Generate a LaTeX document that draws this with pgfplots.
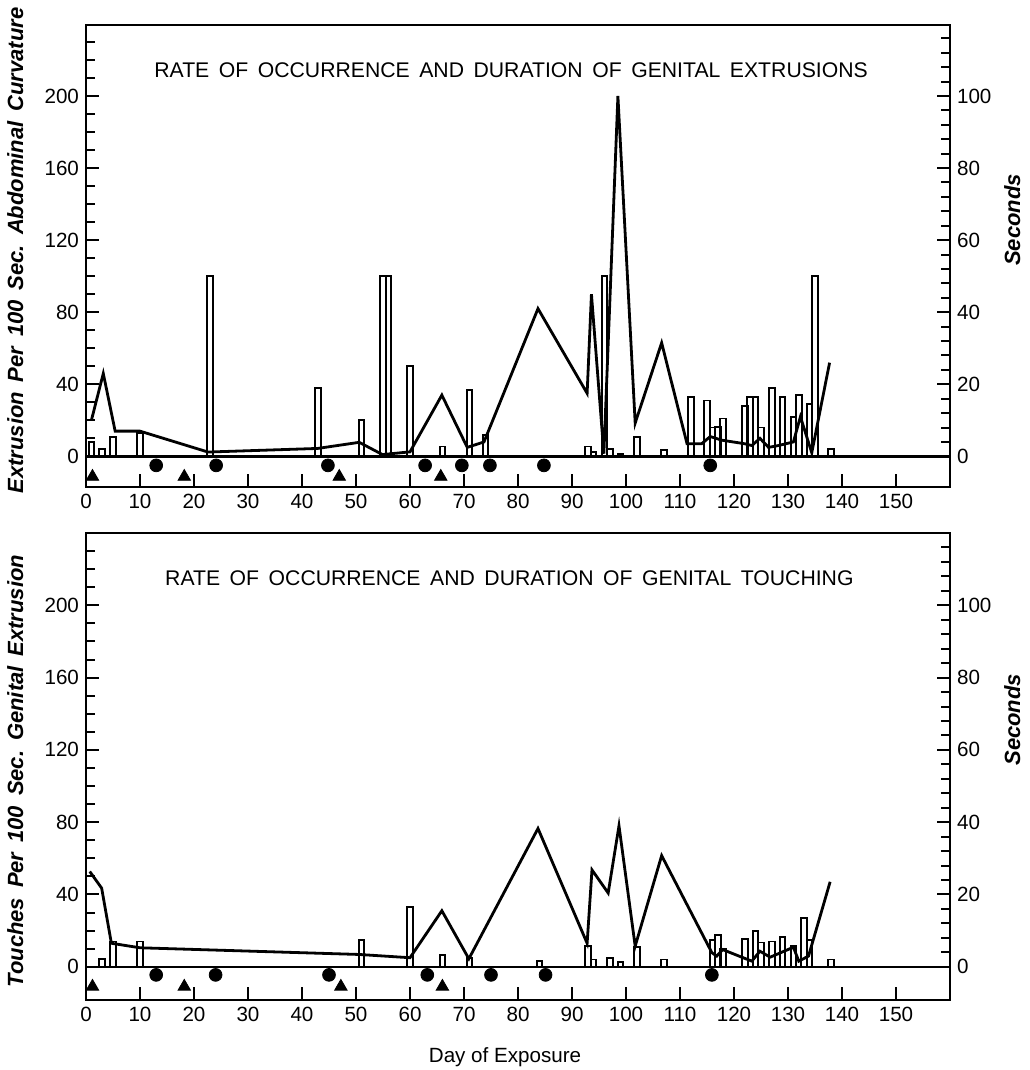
\documentclass[border=0pt]{standalone}
\usepackage{fontspec}
\setmainfont{Liberation Sans}
\usepackage{pgfplots}
\pgfplotsset{compat=1.18}
\newcommand{\gap}{\hspace{0.45em}}
\pgfplotstableread{
x y
1 8
3 4
5 11
10 13
23 100
43 38
51 20
55 100
56 100
60 50
66 5.5
71 37
74 12
93 5.5
94 2.6
96 100
97 4
99 1.5
102 11
107 3.3
112 33
115 31
116 16
117 16.5
118 21
122 28
123 33
124 33
125 16
127 38
129 33
131 22
132 34
134 29
135 100
138 4
}\topbars
\pgfplotstableread{
x y
1 20
3.2 46
5.4 14
10 14
22.6 2.4
42.9 4.4
50.6 7.8
54.9 1
60 2.5
65.9 34
70.6 5
73.7 8
83.7 82
92.8 35
93.6 90
95.9 1.5
98.5 200
101.7 18.5
106.6 63
111.3 7
114 7
115.6 11
117.7 9
122 7
123.3 6
124.8 10
126.4 5
128.2 6
131 8
132.3 22
134.4 2
137.7 52
}\topline
\pgfplotstableread{
x y
3 4.4
5 14
10 14
51 15
60 33
66 6.3
71 5
84 3
93 11.4
94 4
97 5
99 2.8
102 11
107 4
116 15
117 17.4
118 10
122 15.6
124 20
125 13.4
127 14
129 16.4
131 11.4
133 27
134 14.7
138 4
}\botbars
\pgfplotstableread{
x y
0.7 52.7
2.9 43.5
4.7 13
10 10.5
50.6 6.8
60 5
65.9 31
70.9 4.4
83.7 76.5
92.8 13
93.7 53.6
96.7 40.8
98.7 78
101.7 11.4
106.6 61.5
115.9 7.8
116.8 5.9
117.9 9.5
123.3 3.1
124.8 8.6
126.7 5.3
131 10.8
132 3.1
133.8 5.9
137.8 47
}\botline
\pgfplotsset{
  base/.style={
    scale only axis, width=432pt,
    xmin=0, xmax=160,
    tick align=inside,
    axis line style={line width=1.2pt},
    every tick/.style={line width=1pt, black},
    major tick length=6.5pt, minor tick length=4.5pt,
    tick label style={font=\fontsize{10.3}{12}\selectfont},
    /pgf/number format/assume math mode=true,
    clip=false,
  },
  leftax/.style={
    base,
    xtick={0,10,...,150}, xtick pos=left,
    ytick={0,40,...,200}, minor ytick={10,20,...,230}, ytick pos=left,
    every axis y label/.style={at={(axis description cs:-0.082,#1)}, rotate=90, anchor=center,
      font=\fontsize{11}{13}\selectfont\bfseries\itshape},
  },
  rightax/.style={
    base,
    axis x line=none, axis y line*=right,
    ytick={0,20,...,100}, minor ytick={4,8,...,116},
    every axis y label/.style={at={(axis description cs:1.072,#1)}, rotate=90, anchor=center,
      font=\fontsize{11}{13}\selectfont\bfseries\itshape},
  },
  barst/.style={ybar, bar width=1.05, draw=black, fill=white, line width=0.95pt},
  linest/.style={black, line width=1.4pt, no marks, line join=miter},
}
\begin{document}
\begin{tikzpicture}
\useasboundingbox (0,0) rectangle (514.5pt,-535pt);
% ---------- top panel ----------
\begin{axis}[leftax=0.512, at={(43pt,-12.5pt)}, anchor=north west, height=231pt,
  ymin=-17, ymax=239.4,
  ylabel={Extrusion\gap Per\gap 100\gap Sec.\gap Abdominal\gap Curvature}]
\addplot[barst] table[x=x,y=y] {\topbars};
\addplot[linest] table[x=x,y=y] {\topline};
\addplot[black, line width=1.2pt, no marks] coordinates {(0,0) (160,0)};
\addplot[only marks, mark=*, mark size=3.2pt, black] coordinates {(13,-5) (24.1,-5) (44.8,-5) (62.8,-5) (69.6,-5) (74.8,-5) (84.8,-5) (115.6,-5)};
\addplot[only marks, mark=triangle*, mark size=3.6pt, black] coordinates {(1.2,-11.3) (18.2,-11.3) (46.9,-11.3) (65.7,-11.3)};
\node[font=\fontsize{10.6}{12}\selectfont] at (axis description cs:0.492,0.903) {RATE\gap OF\gap OCCURRENCE\gap AND\gap DURATION\gap OF\gap GENITAL\gap EXTRUSIONS};
\end{axis}
\begin{axis}[rightax=0.578, at={(43pt,-12.5pt)}, anchor=north west, height=231pt,
  ymin=-8.5, ymax=119.7, ylabel={Seconds}]
\end{axis}
% ---------- bottom panel ----------
\begin{axis}[leftax=0.49, at={(43pt,-266.5pt)}, anchor=north west, height=233.5pt,
  ymin=-18.4, ymax=240,
  ylabel={Touches\gap Per\gap 100\gap Sec.\gap Genital\gap Extrusion},
  xlabel={Day of Exposure},
  every axis x label/.style={at={(axis description cs:0.485,0)}, anchor=center, yshift=-28.5pt,
    font=\fontsize{10.3}{12}\selectfont}]
\addplot[barst] table[x=x,y=y] {\botbars};
\addplot[linest] table[x=x,y=y] {\botline};
\addplot[black, line width=1.2pt, no marks] coordinates {(0,0) (160,0)};
\addplot[only marks, mark=*, mark size=3.2pt, black] coordinates {(13,-4.5) (24,-4.5) (45,-4.5) (63.2,-4.5) (75,-4.5) (85.1,-4.5) (115.9,-4.5)};
\addplot[only marks, mark=triangle*, mark size=3.6pt, black] coordinates {(1.2,-11) (18.2,-11) (47.2,-11) (66,-11)};
\node[font=\fontsize{10.6}{12}\selectfont] at (axis description cs:0.49,0.903) {RATE\gap OF\gap OCCURRENCE\gap AND\gap DURATION\gap OF\gap GENITAL\gap TOUCHING};
\end{axis}
\begin{axis}[rightax=0.6, at={(43pt,-266.5pt)}, anchor=north west, height=233.5pt,
  ymin=-9.2, ymax=120, ylabel={Seconds}]
\end{axis}
\end{tikzpicture}
\end{document}
